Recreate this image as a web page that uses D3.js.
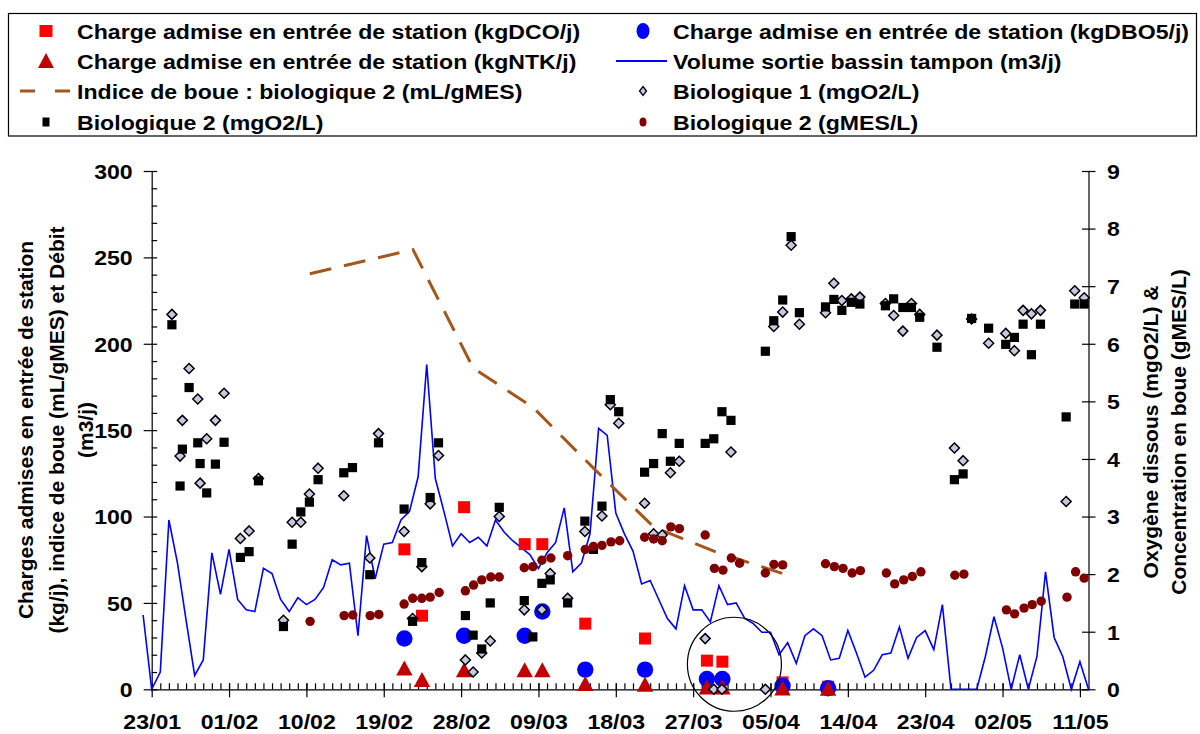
<!DOCTYPE html>
<html><head><meta charset="utf-8">
<script src="https://cdn.jsdelivr.net/npm/d3@7"></script>
<style>
body{margin:0;background:#fff;}
text{font-family:"Liberation Sans",Arial,sans-serif;font-weight:bold;fill:#000;}
</style></head><body>
<svg id="chart" width="1200" height="734"></svg>
<script>
// ---------- DATA (x = days since 23/01) ----------
const xTickDays = [0,9,18,27,36,45,54,63,72,81,90,99,108];
const xTickLabels = ["23/01","01/02","10/02","19/02","28/02","09/03","18/03","27/03","05/04","14/04","23/04","02/05","11/05"];
const leftTicks = [0,50,100,150,200,250,300];
const rightTicks = [0,1,2,3,4,5,6,7,8,9];

// Volume sortie bassin tampon (m3/j), daily from day -1 (22/01) to day 109
const volumeFirstDay = -1;
const volume = [43,0,10,98,73,40,8,17,79,55,81,52,46,45,70,67,52,45,53,49,52,59,75,72,73,31,89,64,84,85,
  98,103,123,188,122,103,83,90,85,88,83,98,91,86,82,78,70,79,85,105,68,73,90,151,147,102,90,80,61,63,
  52,41,35,60,46,46,39,60,49,50,41,38,33,33,20,27,15,31,35,31,17,18,34,21,7,11,20,21,36,18,
  30,34,23,49,0,0,0,0,19,42,24,0,20,0,19,68,30,19,0,16,0];

// Indice de boue : biologique 2 (mL/gMES)
const indiceBoue = [[18.4,240.5],[30.4,254.5],[37.4,186],[44.4,163],[51.4,128],[58.4,94],[65.4,80],[73.4,67]];

// Charges admises (kg/j)
const chargeDays = [29.4,31.45,36.35,43.4,45.45,50.45,57.4,64.6,66.4,73.4,78.7];
const chargeDCO  = [81,42.6,105.4,84,84,38,29.4,16.6,16,4,1.5];
const chargeDBO5 = [29.4,null,31,31,45,11.4,11.4,6,6,2,0.6];
const chargeNTK  = [12,5.4,11,11,11,3,2.6,1,1,0.5,0.3];

// Biologique 2 (mgO2/L)
const bio2O2 = [[2.35,6.33],[3.3,3.53],[3.57,4.17],[4.35,5.24],[5.36,4.28],[5.63,3.92],[6.4,3.41],[7.41,3.91],[8.42,4.29],
  [10.32,2.29],[11.33,2.39],[12.42,3.62],[15.33,1.09],[16.34,2.52],[17.35,3.08],[18.35,3.25],[19.36,3.64],[22.35,3.76],
  [23.36,3.85],[25.38,1.99],[26.39,4.28],[29.37,3.13],[30.35,1.18],[31.43,2.2],[32.4,3.33],[33.37,4.28],[36.5,1.28],
  [37.4,0.94],[38.4,0.7],[39.39,1.5],[40.44,3.16],[43.35,1.54],[44.35,0.91],[45.4,1.84],[46.37,1.9],[48.4,1.5],
  [50.4,2.92],[51.4,2.43],[52.39,3.18],[53.36,5.03],[54.34,4.82],[57.35,3.77],[58.4,3.92],[59.4,4.44],[60.35,3.96],
  [61.38,4.27],[64.4,4.27],[65.4,4.35],[66.35,4.82],[67.4,4.67],[71.4,5.87],[72.38,6.4],[73.42,6.76],[74.4,7.86],
  [75.36,6.54],[78.4,6.64],[79.37,6.77],[80.3,6.58],[81.4,6.72],[82.4,6.69],[85.37,6.66],[86.33,6.78],[87.4,6.63],
  [88.4,6.63],[89.36,6.46],[91.37,5.94],[93.4,3.64],[94.41,3.74],[95.4,6.44],[97.38,6.27],[99.37,5.99],[100.38,6.11],
  [101.39,6.34],[102.36,5.81],[103.41,6.34],[106.4,4.73],[107.4,6.69],[108.5,6.69]];

// Biologique 1 (mgO2/L)
const bio1O2 = [[2.35,6.51],[3.3,4.05],[3.57,4.67],[4.35,5.57],[5.36,5.04],[5.63,3.58],[6.4,4.35],[7.41,4.67],[8.42,5.14],
  [10.32,2.62],[11.33,2.75],[12.42,3.66],[15.33,1.2],[16.34,2.9],[17.35,2.9],[18.35,3.39],[19.36,3.84],[22.35,3.36],
  [25.38,2.28],[26.39,4.44],[29.37,2.74],[30.35,1.23],[31.43,2.13],[32.4,3.22],[33.37,4.06],[36.5,0.51],[37.4,0.3],
  [38.4,0.63],[39.39,0.84],[40.44,3.0],[43.35,1.38],[45.4,1.38],[46.37,2.01],[48.4,1.58],[50.4,2.74],[52.39,3.01],
  [53.36,4.94],[54.34,4.62],[57.35,3.23],[58.4,2.7],[59.4,2.68],[60.35,3.76],[61.38,3.96],[64.4,0.88],[65.4,0],
  [66.35,0],[67.4,4.12],[71.4,0],[72.38,6.3],[73.42,6.55],[74.4,7.71],[75.36,6.34],[78.4,6.54],[79.37,7.05],
  [80.3,6.75],[81.4,6.78],[82.4,6.81],[85.37,6.7],[86.33,6.49],[87.4,6.22],[88.4,6.7],[89.36,6.51],[91.37,6.15],
  [93.4,4.19],[94.41,3.97],[95.4,6.43],[97.38,6.01],[99.37,6.18],[100.38,5.88],[101.39,6.58],[102.36,6.52],
  [103.41,6.58],[106.4,3.26],[107.4,6.92],[108.5,6.8]];

// Biologique 2 (gMES/L)
const bio2MES = [[18.43,1.18],[22.39,1.28],[23.4,1.29],[25.42,1.28],[26.43,1.3],[29.37,1.48],[30.37,1.58],[31.43,1.58],
  [32.4,1.6],[33.45,1.68],[36.5,1.71],[37.45,1.81],[38.4,1.9],[39.46,1.95],[40.44,1.95],[43.35,2.11],[44.35,2.13],
  [45.4,2.24],[46.45,2.28],[48.4,2.32],[50.45,2.43],[51.4,2.48],[52.39,2.5],[53.44,2.56],[54.45,2.58],[57.35,2.64],
  [58.4,2.61],[59.4,2.58],[60.4,2.82],[61.4,2.79],[64.4,2.68],[65.47,2.1],[66.47,2.07],[67.44,2.28],[68.4,2.19],
  [71.4,2.02],[72.4,2.17],[73.42,2.16],[78.4,2.18],[79.43,2.13],[80.44,2.1],[81.5,2.02],[82.46,2.06],[85.48,2.02],
  [86.45,1.83],[87.5,1.9],[88.5,1.96],[89.5,2.04],[93.45,1.98],[94.5,2.0],[99.45,1.38],[100.4,1.31],[101.5,1.41],
  [102.45,1.47],[103.5,1.53],[106.5,1.6],[107.5,2.04],[108.5,1.93]];

// Highlight circle (annotation) centre in data units
const highlight = {day: 67.8, value: 14.5};

const legendItems = [
  {label:"Charge admise en entrée de station (kgDCO/j)", type:"redSquare"},
  {label:"Charge admise en entrée de station (kgDBO5/j)", type:"blueCircle"},
  {label:"Charge admise en entrée de station (kgNTK/j)", type:"triangle"},
  {label:"Volume sortie bassin tampon (m3/j)", type:"blueLine"},
  {label:"Indice de boue : biologique 2 (mL/gMES)", type:"brownDash"},
  {label:"Biologique 1 (mgO2/L)", type:"diamond"},
  {label:"Biologique 2 (mgO2/L)", type:"blackSquare"},
  {label:"Biologique 2 (gMES/L)", type:"brownCircle"}
];
const leftTitle = ["Charges admises en entrée de station","(kg/j),  indice de boue (mL/gMES) et Débit","(m3/j)"];
const rightTitle = ["Oxygène dissous (mgO2/L) &","Concentration en boue (gMES/L)"];

// ---------- STYLE ----------
const C = {red:"#ff0000", blue:"#0000ff", tri:"#c00000", brown:"#a5561a", mes:"#800000", dia:"#c8c6e0"};
const FS = 21, STRETCH = 1.1;

const svg = d3.select("#chart");
const x = d3.scaleLinear().domain([0,109]).range([151.7,1088.5]);
const yL = d3.scaleLinear().domain([0,300]).range([689.3,171]);
const yR = d3.scaleLinear().domain([0,9]).range([689.3,171]);

function stretch(sel,f){ sel.each(function(){ const L=this.getComputedTextLength(); this.setAttribute("textLength",L*f); this.setAttribute("lengthAdjust","spacingAndGlyphs"); }); }

// ---------- AXES ----------
svg.append("g").attr("transform","translate(0,689.3)")
  .call(d3.axisBottom(x).tickValues(d3.range(1,109)).tickSize(-6).tickFormat(""))
  .call(g=>g.select(".domain").remove());
const gx = svg.append("g").attr("transform","translate(0,689.3)")
  .call(d3.axisBottom(x).tickValues(xTickDays).tickFormat((d,i)=>xTickLabels[i]).tickSizeOuter(0));
gx.selectAll(".tick line").attr("y1",-6).attr("y2",8);
gx.selectAll(".tick text").attr("y",25).attr("dy","0.71em").style("font-size",FS+"px").attr("font-family",null).attr("font-size",null);

svg.append("g").attr("transform","translate(151.7,0)")
  .call(d3.axisLeft(yL).tickValues(d3.range(10,300,10).filter(v=>v%50)).tickSize(-5.5).tickFormat(""))
  .call(g=>g.select(".domain").remove());
const gl = svg.append("g").attr("transform","translate(151.7,0)")
  .call(d3.axisLeft(yL).tickValues(leftTicks).tickSizeOuter(0));
gl.selectAll(".tick line").attr("x1",-8).attr("x2",5.5);
gl.selectAll(".tick text").attr("x",-19).attr("dy","0.35em").style("font-size",FS+"px").attr("font-family",null).attr("font-size",null);

const gr = svg.append("g").attr("transform","translate(1088.5,0)")
  .call(d3.axisRight(yR).tickValues(rightTicks).tickSizeOuter(0));
gr.selectAll(".tick line").attr("x1",-6.5).attr("x2",7);
gr.selectAll(".tick text").attr("x",18.5).attr("dy","0.35em").style("font-size",FS+"px").attr("font-family",null).attr("font-size",null);
svg.selectAll(".domain, .tick line").attr("stroke","#000").attr("stroke-width",1.2);

leftTitle.forEach((t,i)=>{
  svg.append("text").attr("transform",`translate(${[25,56,85][i]},430) rotate(-90)`)
    .attr("text-anchor","middle").attr("dominant-baseline","central").style("font-size",FS+"px").text(t);
});
rightTitle.forEach((t,i)=>{
  svg.append("text").attr("transform",`translate(${[1150,1178][i]},432) rotate(-90)`)
    .attr("text-anchor","middle").attr("dominant-baseline","central").style("font-size",FS+"px").text(t);
});

// ---------- SERIES ----------
const volPts = volume.map((v,i)=>[volumeFirstDay+i, v]);
svg.append("path").datum(volPts)
  .attr("d", d3.line().x(d=>x(d[0])).y(d=>yL(d[1])))
  .attr("fill","none").attr("stroke",C.blue).attr("stroke-width",1.6);

svg.append("path").datum(indiceBoue)
  .attr("d", d3.line().x(d=>x(d[0])).y(d=>yL(d[1])))
  .attr("fill","none").attr("stroke",C.brown).attr("stroke-width",3).attr("stroke-dasharray","22,13");

const sym = {
  redSquare:(g,cx,cy)=>g.append("rect").attr("x",cx-6).attr("y",cy-6).attr("width",12).attr("height",12).attr("fill",C.red),
  blueCircle:(g,cx,cy)=>g.append("circle").attr("cx",cx).attr("cy",cy).attr("r",8.2).attr("fill",C.blue),
  triangle:(g,cx,cy)=>g.append("path").attr("d",`M${cx},${cy-8}L${cx+8.2},${cy+7}L${cx-8.2},${cy+7}Z`).attr("fill",C.tri),
  diamond:(g,cx,cy)=>g.append("path").attr("d",`M${cx},${cy-5}L${cx+5},${cy}L${cx},${cy+5}L${cx-5},${cy}Z`).attr("fill",C.dia).attr("stroke","#000").attr("stroke-width",1.5),
  blackSquare:(g,cx,cy)=>g.append("rect").attr("x",cx-4.6).attr("y",cy-4.6).attr("width",9.2).attr("height",9.2).attr("fill","#000"),
  brownCircle:(g,cx,cy)=>g.append("circle").attr("cx",cx).attr("cy",cy).attr("r",4.7).attr("fill",C.mes)
};
const gm = svg.append("g");
chargeDays.forEach((d,i)=>{ if(chargeDCO[i]!=null) sym.redSquare(gm,x(d),yL(chargeDCO[i])); });
chargeDays.forEach((d,i)=>{ if(chargeDBO5[i]!=null) sym.blueCircle(gm,x(d),yL(chargeDBO5[i])); });
chargeDays.forEach((d,i)=>{ if(chargeNTK[i]!=null) sym.triangle(gm,x(d),yL(chargeNTK[i])); });
bio1O2.forEach(p=>sym.diamond(gm,x(p[0]),yR(p[1])));
bio2O2.forEach(p=>sym.blackSquare(gm,x(p[0]),yR(p[1])));
bio2MES.forEach(p=>sym.brownCircle(gm,x(p[0]),yR(p[1])));

svg.append("circle").attr("cx",x(highlight.day)).attr("cy",yL(highlight.value)).attr("r",47)
  .attr("fill","none").attr("stroke","#000").attr("stroke-width",1.2);

// ---------- LEGEND ----------
const lg = svg.append("g");
lg.append("rect").attr("x",8.5).attr("y",13.5).attr("width",1188).attr("height",122.5)
  .attr("fill","#fff").attr("stroke","#000").attr("stroke-width",1.2);
const rowsY = [31,61,91,122];
legendItems.forEach((it,i)=>{
  const col = i%2, row = Math.floor(i/2);
  const mx = col? 643 : 46, tx = col? 673 : 77, cy = rowsY[row];
  if(it.type==="blueLine") lg.append("line").attr("x1",616).attr("x2",667).attr("y1",cy).attr("y2",cy).attr("stroke",C.blue).attr("stroke-width",2);
  else if(it.type==="brownDash") lg.append("line").attr("x1",20).attr("x2",71).attr("y1",cy).attr("y2",cy).attr("stroke",C.brown).attr("stroke-width",3).attr("stroke-dasharray","15,20");
  else if(it.type==="blackSquare") lg.append("rect").attr("x",mx-3.5).attr("y",cy-4.5).attr("width",7).attr("height",9).attr("fill","#000");
  else if(it.type==="diamond") lg.append("path").attr("d",`M${mx},${cy-4.5}L${mx+3.5},${cy}L${mx},${cy+4.5}L${mx-3.5},${cy}Z`).attr("fill",C.dia).attr("stroke","#000").attr("stroke-width",1.3);
  else if(it.type==="brownCircle") lg.append("ellipse").attr("cx",mx).attr("cy",cy).attr("rx",3.5).attr("ry",4.5).attr("fill",C.mes);
  else if(it.type==="blueCircle") lg.append("ellipse").attr("cx",mx).attr("cy",cy).attr("rx",6.5).attr("ry",8).attr("fill",C.blue);
  else if(it.type==="redSquare") lg.append("rect").attr("x",mx-6.5).attr("y",cy-6).attr("width",13).attr("height",12).attr("fill",C.red);
  else if(it.type==="triangle") lg.append("path").attr("d",`M${mx},${cy-8}L${mx+8},${cy+7}L${mx-8},${cy+7}Z`).attr("fill",C.tri);
  lg.append("text").attr("class","ltxt").attr("x",tx).attr("y",cy).attr("dominant-baseline","central").style("font-size",FS+"px").text(it.label);
});

stretch(svg.selectAll(".ltxt"), STRETCH);
stretch(svg.selectAll(".tick text"), STRETCH);
</script></body></html>
